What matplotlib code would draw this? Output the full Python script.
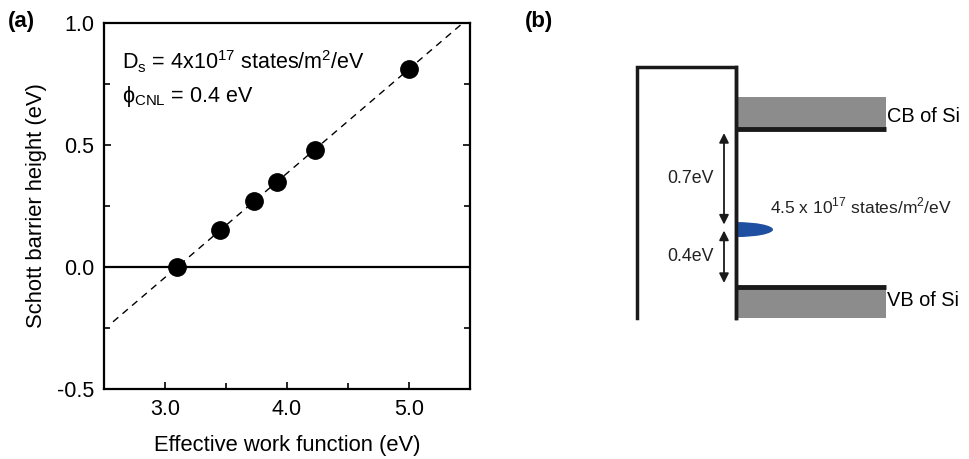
import matplotlib
matplotlib.use("Agg")
import matplotlib.pyplot as plt
import numpy as np
from matplotlib.patches import Rectangle, Ellipse

plt.rcParams['font.family'] = ['Liberation Sans', 'DejaVu Sans']

# ---- panel (a) data
work_function = [3.1, 3.45, 3.73, 3.92, 4.23, 5.0]
barrier_height = [0.0, 0.15, 0.27, 0.35, 0.48, 0.81]
fit_slope = 0.427
fit_x0 = 3.1          # zero crossing of the fit
fit_x_range = [2.574, 5.43]

# ---- panel (b) values (eV above valence band edge)
gap_to_cb = 0.7
trap_level = 0.4
band_labels = ['CB of Si', 'VB of Si']

fig = plt.figure(figsize=(9.69, 4.59), dpi=100)

# ---------------- (a)
ax = fig.add_axes([104/969, 70/459, 366/969, 366/459])
fx = np.array(fit_x_range)
ax.plot(fx, fit_slope*(fx - fit_x0), ls=(0, (5, 4)), color='black', lw=1)
ax.axhline(0, color='black', lw=1.6)
ax.plot(work_function, barrier_height, 'o', color='black', ms=12.5, zorder=3)
ax.set_xlim(2.5, 5.5)
ax.set_ylim(-0.5, 1.0)
ax.set_xticks([3.0, 4.0, 5.0])
ax.set_xticks([3.5, 4.5], minor=True)
ax.set_xticklabels(['3.0', '4.0', '5.0'])
ax.set_yticks([-0.5, 0.0, 0.5, 1.0])
ax.set_yticks([-0.25, 0.25, 0.75], minor=True)
ax.set_yticklabels(['-0.5', '0.0', '0.5', '1.0'])
ax.tick_params(which='both', direction='in', right=True, top=False,
               labelsize=15.5, width=1.2)
ax.tick_params(which='major', length=5, pad=7)
ax.tick_params(which='minor', length=4)
for s in ax.spines.values():
    s.set_linewidth(1.6)
ax.set_xlabel('Effective work function (eV)', fontsize=15.8, labelpad=11)
ax.set_ylabel('Schott barrier height (eV)', fontsize=15.8, labelpad=7)
ax.text(0.05, 0.893, r'D$_\mathregular{s}$ = 4x10$^\mathregular{17}$ states/m$^\mathregular{2}$/eV',
        transform=ax.transAxes, fontsize=15.5, va='center')
ax.text(0.05, 0.798, r'$\mathregular{\phi}_\mathregular{CNL}$ = 0.4 eV',
        transform=ax.transAxes, fontsize=15.5, va='center')
fig.text(8/969, 1 - 22/459, '(a)', fontsize=16, fontweight='bold', va='center')
fig.text(525/969, 1 - 22/459, '(b)', fontsize=16, fontweight='bold', va='center')

# ---------------- (b) band schematic
cb = gap_to_cb + trap_level
px = 143.6  # pixels per eV
bx = fig.add_axes([600/969, (459-340)/459, 369/969, 310/459])
bx.set_xlim(0, 369)
bx.set_ylim(-53/px, 257/px)
bx.axis('off')
top = 220/px
bottom = -31/px
# metal outline
bx.plot([37, 37, 136, 136], [bottom, top, top, bottom], color='#1a1a1a', lw=2.5,
        solid_joinstyle='miter')
# bands
bx.add_patch(Rectangle((136, cb), 150, 32/px, color='#8c8c8c', lw=0))
bx.add_patch(Rectangle((136, bottom), 150, -bottom, color='#8c8c8c', lw=0))
bx.plot([136, 286], [cb, cb], color='#1a1a1a', lw=3.5, solid_capstyle='butt')
bx.plot([136, 286], [0, 0], color='#1a1a1a', lw=3.5, solid_capstyle='butt')
bx.text(287, cb + 13/px, band_labels[0], fontsize=14.4, va='center')
bx.text(287, -13/px, band_labels[1], fontsize=14.4, va='center')
# interface states (half ellipse on the silicon side)
clip = Rectangle((136, trap_level - 20/px), 60, 40/px, transform=bx.transData)
ell = Ellipse((136, trap_level), 74, 15/px, color='#1f4fa0', lw=0, zorder=2)
bx.add_patch(ell)
ell.set_clip_path(clip)
bx.plot([136, 136], [bottom, top], color='#1a1a1a', lw=2.5, zorder=3)
# arrows
arr = dict(arrowstyle='<|-|>', color='#1a1a1a', lw=1.3, mutation_scale=14,
           shrinkA=0, shrinkB=0)
bx.annotate('', xy=(124, cb - 4/px), xytext=(124, trap_level + 5/px), arrowprops=arr)
bx.annotate('', xy=(124, trap_level - 1/px), xytext=(124, 4/px), arrowprops=arr)
bx.text(90, trap_level + gap_to_cb/2 + 1/px, f'{gap_to_cb}eV', fontsize=12.8,
        ha='center', va='center', color='#222222')
bx.text(90, trap_level/2 + 2/px, f'{trap_level}eV', fontsize=12.8,
        ha='center', va='center', color='#222222')
bx.text(170, trap_level + 23/px, r'4.5 x 10$^\mathregular{17}$ states/m$^\mathregular{2}$/eV',
        fontsize=12.5, va='center', color='#222222')

fig.savefig('out.png', dpi=100)
